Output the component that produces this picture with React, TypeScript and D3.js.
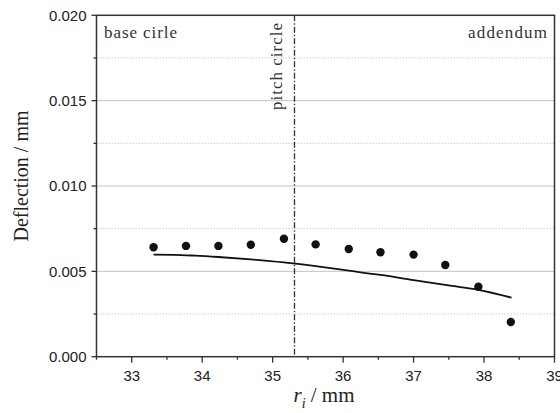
import React from "react";
import * as d3 from "d3";

const pointX = [33.31, 33.77, 34.23, 34.69, 35.16, 35.61, 36.08, 36.53, 37.0, 37.45, 37.92, 38.38];
const pointY = [0.00641, 0.00649, 0.00649, 0.00656, 0.00691, 0.00658, 0.00631, 0.00612, 0.00598, 0.00537, 0.0041, 0.00203];
const lineX = [33.31, 33.6, 33.9, 34.23, 34.69, 35.16, 35.61, 36.08, 36.53, 37.0, 37.52, 37.92, 38.39];
const lineY = [0.00598, 0.00597, 0.00592, 0.00584, 0.0057, 0.00552, 0.0053, 0.00504, 0.00479, 0.00449, 0.00416, 0.00392, 0.00346];
const xTicks = [33, 34, 35, 36, 37, 38, 39];
const xMinor = [32.5, 33.5, 34.5, 35.5, 36.5, 37.5, 38.5];
const yTicks = [0, 0.005, 0.01, 0.015, 0.02];
const yMinor = [0.0025, 0.0075, 0.0125, 0.0175];
const pitchX = 35.31;

const W = 560, H = 413;
const L = 96.5, R = 554.5, T = 15.3, B = 356.7;
const serif = "Liberation Serif, Times New Roman, serif";
const sans = "Liberation Sans, Arial, sans-serif";

export default function App() {
  const x = d3.scaleLinear().domain([32.5, 39]).range([L, R]);
  const y = d3.scaleLinear().domain([0, 0.02]).range([B, T]);
  const line = d3.line<number>().x((d) => x(lineX[d])).y((d) => y(lineY[d])).curve(d3.curveMonotoneX);
  const axisColor = "#333";
  return (
    <svg width={W} height={H} style={{ position: "absolute", left: 0, top: 0, background: "#fff" }}>
      {yTicks.slice(1, -1).map((t) => (
        <line key={"g" + t} x1={L} x2={R} y1={y(t)} y2={y(t)} stroke="#c4c4c4" strokeWidth={1} />
      ))}
      {yMinor.map((t) => (
        <line key={"m" + t} x1={L} x2={R} y1={y(t)} y2={y(t)} stroke="#cfcfcf" strokeWidth={1} strokeDasharray="1.5 1.5" />
      ))}
      <line x1={x(pitchX)} x2={x(pitchX)} y1={T} y2={B} stroke="#333" strokeWidth={1.3} strokeDasharray="6 2 1.5 2" />
      <rect x={L} y={T} width={R - L} height={B - T} fill="none" stroke={axisColor} strokeWidth={1.5} />
      {yTicks.map((t) => (
        <g key={"yt" + t}>
          <line x1={L - 5} x2={L} y1={y(t)} y2={y(t)} stroke={axisColor} strokeWidth={1.3} />
          <text x={L - 10} y={y(t)} dy="0.36em" textAnchor="end" fontFamily={sans} fontSize={15} fill="#222">
            {d3.format(".3f")(t)}
          </text>
        </g>
      ))}
      {yMinor.map((t) => (
        <line key={"ym" + t} x1={L - 3} x2={L} y1={y(t)} y2={y(t)} stroke={axisColor} strokeWidth={1.3} />
      ))}
      {xTicks.map((t) => (
        <g key={"xt" + t}>
          <line x1={x(t)} x2={x(t)} y1={B} y2={B + 6} stroke={axisColor} strokeWidth={1.3} />
          <text x={x(t)} y={381} textAnchor="middle" fontFamily={sans} fontSize={15} fill="#222">
            {t}
          </text>
        </g>
      ))}
      {xMinor.map((t) => (
        <line key={"xm" + t} x1={x(t)} x2={x(t)} y1={B} y2={B + 3} stroke={axisColor} strokeWidth={1.3} />
      ))}
      <path d={line(d3.range(lineX.length)) || ""} fill="none" stroke="#111" strokeWidth={1.8} />
      {pointX.map((px, i) => (
        <circle key={"p" + i} cx={x(px)} cy={y(pointY[i])} r={4.2} fill="#111" />
      ))}
      <text x={104} y={38} fontFamily={serif} fontSize={17} textLength={73} lengthAdjust="spacing" fill="#333">base cirle</text>
      <text x={468} y={38} fontFamily={serif} fontSize={17} textLength={79} lengthAdjust="spacing" fill="#333">addendum</text>
      <text transform={`translate(${x(pitchX) - 12.5},110) rotate(-90)`} fontFamily={serif} fontSize={17} textLength={87} lengthAdjust="spacing" fill="#333">pitch circle</text>
      <text transform={`translate(28,176) rotate(-90)`} textAnchor="middle" fontFamily={serif} fontSize={20} fill="#222">Deflection / mm</text>
      <text x={324} y={402} textAnchor="middle" fontFamily={serif} fontSize={21} fill="#222">
        <tspan fontStyle="italic">r</tspan>
        <tspan fontStyle="italic" fontSize={14} dy={6}>i</tspan>
        <tspan dy={-6}> / mm</tspan>
      </text>
    </svg>
  );
}
